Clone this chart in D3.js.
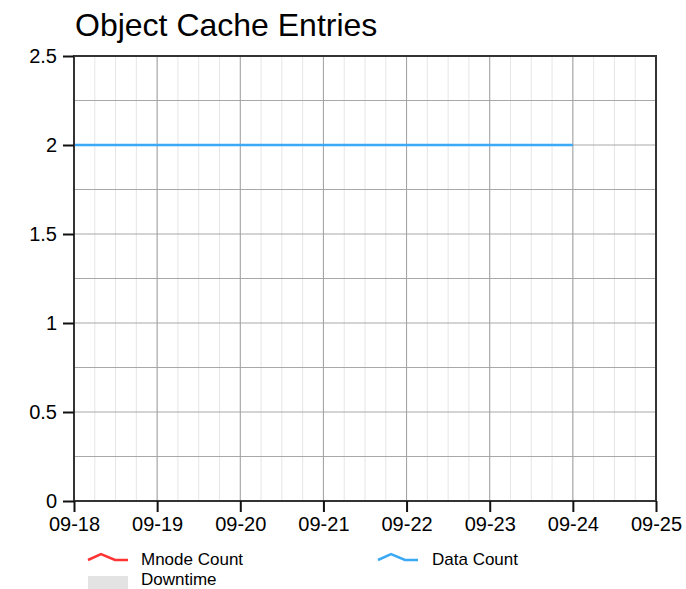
<!DOCTYPE html>
<html>
<head>
<meta charset="utf-8">
<script src="https://cdn.jsdelivr.net/npm/d3@7"></script>
<style>
  body { margin: 0; background: #fff; }
  text { font-family: "Liberation Sans", Arial, sans-serif; }
</style>
</head>
<body>
<svg class="chart"></svg>
<script>
const width = 686;
const height = 589;
const margin = { top: 56, right: 30, bottom: 88, left: 74 };

// data
const dates = ["2023-09-18", "2023-09-19", "2023-09-20", "2023-09-21", "2023-09-22", "2023-09-23", "2023-09-24"];
const dataCount = [2, 2, 2, 2, 2, 2, 2];
const mnodeCount = [];
const xDomain = ["2023-09-18", "2023-09-25"];
const yTicks = [0, 0.5, 1, 1.5, 2, 2.5];

const parse = d3.timeParse("%Y-%m-%d");

const svg = d3.select(".chart").attr("width", width).attr("height", height);

const xScale = d3
  .scaleTime()
  .domain(xDomain.map(parse))
  .range([margin.left, width - margin.right]);
const yScale = d3
  .scaleLinear()
  .domain([0, 2.5])
  .range([height - margin.bottom, margin.top]);

const plotTop = margin.top;
const plotBottom = height - margin.bottom;
const plotLeft = margin.left;
const plotRight = width - margin.right;

// minor vertical grid (6 hours)
svg
  .append("g")
  .selectAll("line")
  .data(xScale.ticks(d3.timeHour.every(6)))
  .enter()
  .append("line")
  .attr("x1", (d) => xScale(d))
  .attr("x2", (d) => xScale(d))
  .attr("y1", plotTop)
  .attr("y2", plotBottom)
  .attr("stroke", "#e6e6e6")
  .attr("stroke-width", 1);

// horizontal grid (every 0.25)
svg
  .append("g")
  .selectAll("line")
  .data(d3.range(0, 2.51, 0.25))
  .enter()
  .append("line")
  .attr("x1", plotLeft)
  .attr("x2", plotRight)
  .attr("y1", (d) => yScale(d))
  .attr("y2", (d) => yScale(d))
  .attr("stroke", "#a8a8a8")
  .attr("stroke-width", 1);

// major vertical grid (days)
svg
  .append("g")
  .selectAll("line")
  .data(xScale.ticks(d3.timeDay.every(1)))
  .enter()
  .append("line")
  .attr("x1", (d) => xScale(d))
  .attr("x2", (d) => xScale(d))
  .attr("y1", plotTop)
  .attr("y2", plotBottom)
  .attr("stroke", "#a0a0a0")
  .attr("stroke-width", 1);

// series
const line = d3
  .line()
  .x((d) => xScale(d.date))
  .y((d) => yScale(d.value));

const dataSeries = dates.map((d, i) => ({ date: parse(d), value: dataCount[i] }));
const mnodeSeries = mnodeCount.map((v, i) => ({ date: parse(dates[i]), value: v }));

svg
  .append("path")
  .datum(mnodeSeries)
  .attr("fill", "none")
  .attr("stroke", "#ff3333")
  .attr("stroke-width", 2.5)
  .attr("d", line);

svg
  .append("path")
  .datum(dataSeries)
  .attr("fill", "none")
  .attr("stroke", "#3ba9f5")
  .attr("stroke-width", 2.5)
  .attr("d", line);

// frame
svg
  .append("rect")
  .attr("x", plotLeft)
  .attr("y", plotTop)
  .attr("width", plotRight - plotLeft)
  .attr("height", plotBottom - plotTop)
  .attr("fill", "none")
  .attr("stroke", "#333")
  .attr("stroke-width", 2);

// axes
const xAxis = svg
  .append("g")
  .attr("transform", `translate(0,${plotBottom})`)
  .call(
    d3
      .axisBottom(xScale)
      .ticks(d3.timeDay.every(1))
      .tickFormat(d3.timeFormat("%m-%d"))
      .tickSize(11)
      .tickPadding(5)
  );
xAxis.select(".domain").remove();
xAxis.selectAll("line").attr("stroke", "#111").attr("stroke-width", 2);
xAxis.selectAll("text").style("font-size", "20px").attr("fill", "#000");

const yAxis = svg
  .append("g")
  .attr("transform", `translate(${plotLeft},0)`)
  .call(
    d3
      .axisLeft(yScale)
      .tickValues(yTicks)
      .tickFormat(d3.format("~g"))
      .tickSize(11)
      .tickPadding(6)
  );
yAxis.select(".domain").remove();
yAxis.selectAll("line").attr("stroke", "#111").attr("stroke-width", 2);
yAxis.selectAll("text").style("font-size", "20px").attr("fill", "#000");

// title
svg
  .append("text")
  .attr("x", 75)
  .attr("y", 36)
  .style("font-size", "32px")
  .attr("fill", "#000")
  .text("Object Cache Entries");

// legend
const icon = "M0,6 L13,0 L27,6 L40,6";
const legend = svg.append("g").attr("transform", "translate(88,554)");

legend
  .append("path")
  .attr("d", icon)
  .attr("fill", "none")
  .attr("stroke", "#ff3333")
  .attr("stroke-width", 2.5);
legend
  .append("text")
  .attr("x", 53)
  .attr("y", 11)
  .style("font-size", "17px")
  .text("Mnode Count");

legend
  .append("rect")
  .attr("x", 0)
  .attr("y", 22)
  .attr("width", 40)
  .attr("height", 13)
  .attr("fill", "#e3e3e3");
legend
  .append("text")
  .attr("x", 53)
  .attr("y", 31)
  .style("font-size", "17px")
  .text("Downtime");

legend
  .append("path")
  .attr("transform", "translate(290,0)")
  .attr("d", icon)
  .attr("fill", "none")
  .attr("stroke", "#3ba9f5")
  .attr("stroke-width", 2.5);
legend
  .append("text")
  .attr("x", 344)
  .attr("y", 11)
  .style("font-size", "17px")
  .text("Data Count");
</script>
</body>
</html>
